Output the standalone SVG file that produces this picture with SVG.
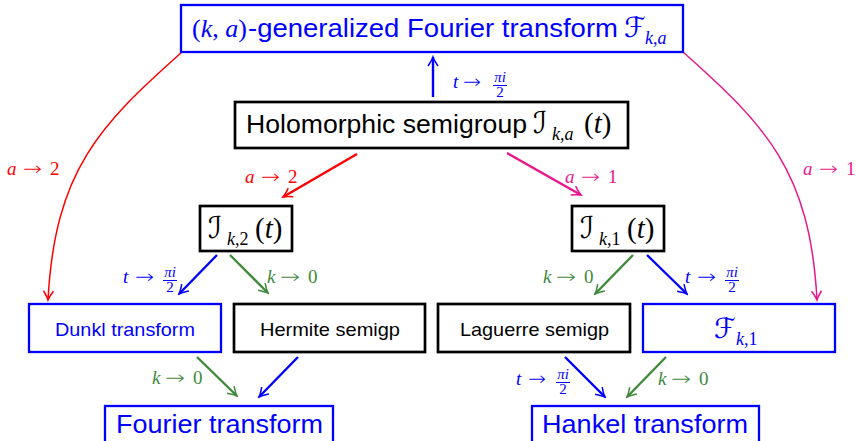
<svg xmlns="http://www.w3.org/2000/svg" width="856" height="441" viewBox="0 0 856 441">
<style>
.bb{fill:#fff;stroke:#0000ff;stroke-width:2.3}
.kb{fill:#fff;stroke:#000;stroke-width:2.7}
.sans{font-family:"Liberation Sans",Arial,sans-serif}
.ser{font-family:"Liberation Serif","Times New Roman",serif}
.cal{font-family:"DejaVu Serif","DejaVu Sans",serif;font-style:italic}
.i{font-style:italic}
.lbl{font-family:"Liberation Serif","Times New Roman",serif;font-size:19px}
.arr{font-family:"DejaVu Sans",sans-serif;font-size:19px;font-weight:200}
.fr{font-family:"Liberation Serif","Times New Roman",serif;font-size:15px;text-anchor:middle}
.blue{fill:#0000ff}
.red{fill:#ff0000}
.pink{fill:#e8168c}
.green{fill:#3f8a3a}
.c line,.c path{fill:none;stroke-width:2.4}
</style>
<defs>
<marker id="hb" viewBox="-12 -8 14 16" refX="0" refY="0" markerWidth="14" markerHeight="16" markerUnits="userSpaceOnUse" orient="auto"><path d="M-9,-5 Q-3,-1 0,0 Q-3,1 -9,5" fill="none" stroke="#0000ff" stroke-width="1.5"/></marker>
<marker id="hr" viewBox="-12 -8 14 16" refX="0" refY="0" markerWidth="14" markerHeight="16" markerUnits="userSpaceOnUse" orient="auto"><path d="M-9,-5 Q-3,-1 0,0 Q-3,1 -9,5" fill="none" stroke="#ff0000" stroke-width="1.5"/></marker>
<marker id="hp" viewBox="-12 -8 14 16" refX="0" refY="0" markerWidth="14" markerHeight="16" markerUnits="userSpaceOnUse" orient="auto"><path d="M-9,-5 Q-3,-1 0,0 Q-3,1 -9,5" fill="none" stroke="#e8168c" stroke-width="1.5"/></marker>
<marker id="hg" viewBox="-12 -8 14 16" refX="0" refY="0" markerWidth="14" markerHeight="16" markerUnits="userSpaceOnUse" orient="auto"><path d="M-9,-5 Q-3,-1 0,0 Q-3,1 -9,5" fill="none" stroke="#3f8a3a" stroke-width="1.5"/></marker>
</defs>
<rect width="856" height="441" fill="#fff"/>

<g id="connectors" class="c">
<line x1="433" y1="97" x2="433" y2="57" stroke="#0000ff" marker-end="url(#hb)"/>
<line x1="357" y1="154" x2="283" y2="197" stroke="#ff0000" marker-end="url(#hr)"/>
<line x1="507" y1="153" x2="581" y2="195" stroke="#e8168c" marker-end="url(#hp)"/>
<path d="M182,52 C100,125 55,170 48,300" stroke="#ff0000" style="stroke-width:1.5" marker-end="url(#hr)"/>
<path d="M683,52 C765,125 810,170 817,300" stroke="#e8168c" style="stroke-width:1.5" marker-end="url(#hp)"/>
<line x1="217" y1="255" x2="179" y2="294" stroke="#0000ff" marker-end="url(#hb)"/>
<line x1="230" y1="255" x2="268" y2="293" stroke="#3f8a3a" marker-end="url(#hg)"/>
<line x1="633" y1="255" x2="595" y2="294" stroke="#3f8a3a" marker-end="url(#hg)"/>
<line x1="647" y1="255" x2="687" y2="294" stroke="#0000ff" marker-end="url(#hb)"/>
<line x1="197" y1="357" x2="237" y2="396" stroke="#3f8a3a" marker-end="url(#hg)"/>
<line x1="298" y1="357" x2="259" y2="397" stroke="#0000ff" marker-end="url(#hb)"/>
<line x1="565" y1="357" x2="605" y2="397" stroke="#0000ff" marker-end="url(#hb)"/>
<line x1="666" y1="357" x2="627" y2="397" stroke="#3f8a3a" marker-end="url(#hg)"/>

<g id="labels">
<text class="lbl blue i" x="453" y="88">t</text>
<text class="arr blue" x="463" y="88" textLength="18" lengthAdjust="spacingAndGlyphs">→</text>
<text class="fr blue i" x="500" y="82">πi</text><line x1="493" y1="85.5" x2="507" y2="85.5" stroke="#0000ff" style="stroke-width:1"/><text class="fr blue" x="500" y="97">2</text>

<text class="lbl red i" x="7" y="175">a</text>
<text class="arr red" x="23" y="175" textLength="19" lengthAdjust="spacingAndGlyphs">→</text>
<text class="lbl red" x="50" y="175">2</text>

<text class="lbl red i" x="245" y="183">a</text>
<text class="arr red" x="261" y="183" textLength="19" lengthAdjust="spacingAndGlyphs">→</text>
<text class="lbl red" x="288" y="183">2</text>

<text class="lbl pink i" x="565" y="183">a</text>
<text class="arr pink" x="581" y="183" textLength="19" lengthAdjust="spacingAndGlyphs">→</text>
<text class="lbl pink" x="608" y="183">1</text>

<text class="lbl pink i" x="803" y="175">a</text>
<text class="arr pink" x="819" y="175" textLength="19" lengthAdjust="spacingAndGlyphs">→</text>
<text class="lbl pink" x="846" y="175">1</text>

<text class="lbl green i" x="267" y="283">k</text>
<text class="arr green" x="280" y="283" textLength="20" lengthAdjust="spacingAndGlyphs">→</text>
<text class="lbl green" x="308" y="283">0</text>

<text class="lbl green i" x="543" y="283">k</text>
<text class="arr green" x="556" y="283" textLength="20" lengthAdjust="spacingAndGlyphs">→</text>
<text class="lbl green" x="584" y="283">0</text>

<text class="lbl green i" x="152" y="384">k</text>
<text class="arr green" x="165" y="384" textLength="20" lengthAdjust="spacingAndGlyphs">→</text>
<text class="lbl green" x="193" y="384">0</text>

<text class="lbl green i" x="658" y="385">k</text>
<text class="arr green" x="671" y="385" textLength="20" lengthAdjust="spacingAndGlyphs">→</text>
<text class="lbl green" x="699" y="385">0</text>

<text class="lbl blue i" x="123" y="283">t</text>
<text class="arr blue" x="135" y="283" textLength="19" lengthAdjust="spacingAndGlyphs">→</text>
<text class="fr blue i" x="170" y="277">πi</text><line x1="163" y1="280.5" x2="177" y2="280.5" stroke="#0000ff" style="stroke-width:1"/><text class="fr blue" x="170" y="292">2</text>

<text class="lbl blue i" x="685" y="283">t</text>
<text class="arr blue" x="697" y="283" textLength="19" lengthAdjust="spacingAndGlyphs">→</text>
<text class="fr blue i" x="732" y="277">πi</text><line x1="725" y1="280.5" x2="739" y2="280.5" stroke="#0000ff" style="stroke-width:1"/><text class="fr blue" x="732" y="292">2</text>

<text class="lbl blue i" x="516" y="385">t</text>
<text class="arr blue" x="528" y="385" textLength="18" lengthAdjust="spacingAndGlyphs">→</text>
<text class="fr blue i" x="563" y="379">πi</text><line x1="556" y1="382.5" x2="570" y2="382.5" stroke="#0000ff" style="stroke-width:1"/><text class="fr blue" x="563" y="394">2</text>
</g>
</g>

<g id="gft">
<rect class="bb" x="181" y="5" width="502" height="47"/>
<text class="ser blue" x="192" y="37" font-size="26">(<tspan class="i">k</tspan>, <tspan class="i">a</tspan>)</text>
<text class="sans blue" x="248" y="37" font-size="26" textLength="370" lengthAdjust="spacingAndGlyphs">-generalized Fourier transform</text>
<text class="cal blue" x="624" y="37" font-size="28">ℱ</text>
<text class="ser blue i" x="645" y="44" font-size="18">k,a</text>
</g>

<g id="holo">
<rect class="kb" x="235" y="102" width="393" height="46"/>
<text class="sans" x="246" y="133" font-size="26" textLength="281" lengthAdjust="spacingAndGlyphs">Holomorphic semigroup</text>
<text class="cal" x="533" y="133" font-size="30">ℐ</text>
<text class="ser i" x="552" y="140" font-size="18">k,a</text>
<text class="ser" x="584" y="133" font-size="29">(<tspan class="i">t</tspan>)</text>
</g>

<g id="ik2">
<rect class="kb" x="200" y="206" width="92" height="45"/>
<text class="cal" x="208" y="238" font-size="30">ℐ</text>
<text class="ser" x="227" y="245" font-size="18"><tspan class="i">k</tspan>,2</text>
<text class="ser" x="255" y="238" font-size="29">(<tspan class="i">t</tspan>)</text>
</g>

<g id="ik1">
<rect class="kb" x="572" y="206" width="92" height="45"/>
<text class="cal" x="580" y="238" font-size="30">ℐ</text>
<text class="ser" x="599" y="245" font-size="18"><tspan class="i">k</tspan>,1</text>
<text class="ser" x="627" y="238" font-size="29">(<tspan class="i">t</tspan>)</text>
</g>

<g id="dunkl">
<rect class="bb" x="29" y="304" width="192" height="48"/>
<text class="sans blue" x="55" y="336" font-size="18.5" textLength="140" lengthAdjust="spacingAndGlyphs">Dunkl transform</text>
</g>

<g id="hermite">
<rect class="kb" x="234" y="304" width="191" height="48"/>
<text class="sans" x="260" y="336" font-size="18.5" textLength="140" lengthAdjust="spacingAndGlyphs">Hermite semigp</text>
</g>

<g id="laguerre">
<rect class="kb" x="438" y="304" width="192" height="48"/>
<text class="sans" x="460" y="336" font-size="18.5" textLength="149" lengthAdjust="spacingAndGlyphs">Laguerre semigp</text>
</g>

<g id="fk1">
<rect class="bb" x="643" y="304" width="192" height="48"/>
<text class="cal blue" x="714" y="338" font-size="28">ℱ</text>
<text class="ser blue" x="736" y="345" font-size="18"><tspan class="i">k</tspan>,1</text>
</g>

<g id="fourier">
<rect class="bb" x="105" y="406" width="228" height="50"/>
<text class="sans blue" x="116" y="433" font-size="26" textLength="207" lengthAdjust="spacingAndGlyphs">Fourier transform</text>
</g>

<g id="hankel">
<rect class="bb" x="532" y="406" width="227" height="50"/>
<text class="sans blue" x="542" y="433" font-size="26" textLength="206" lengthAdjust="spacingAndGlyphs">Hankel transform</text>
</g>
</svg>
